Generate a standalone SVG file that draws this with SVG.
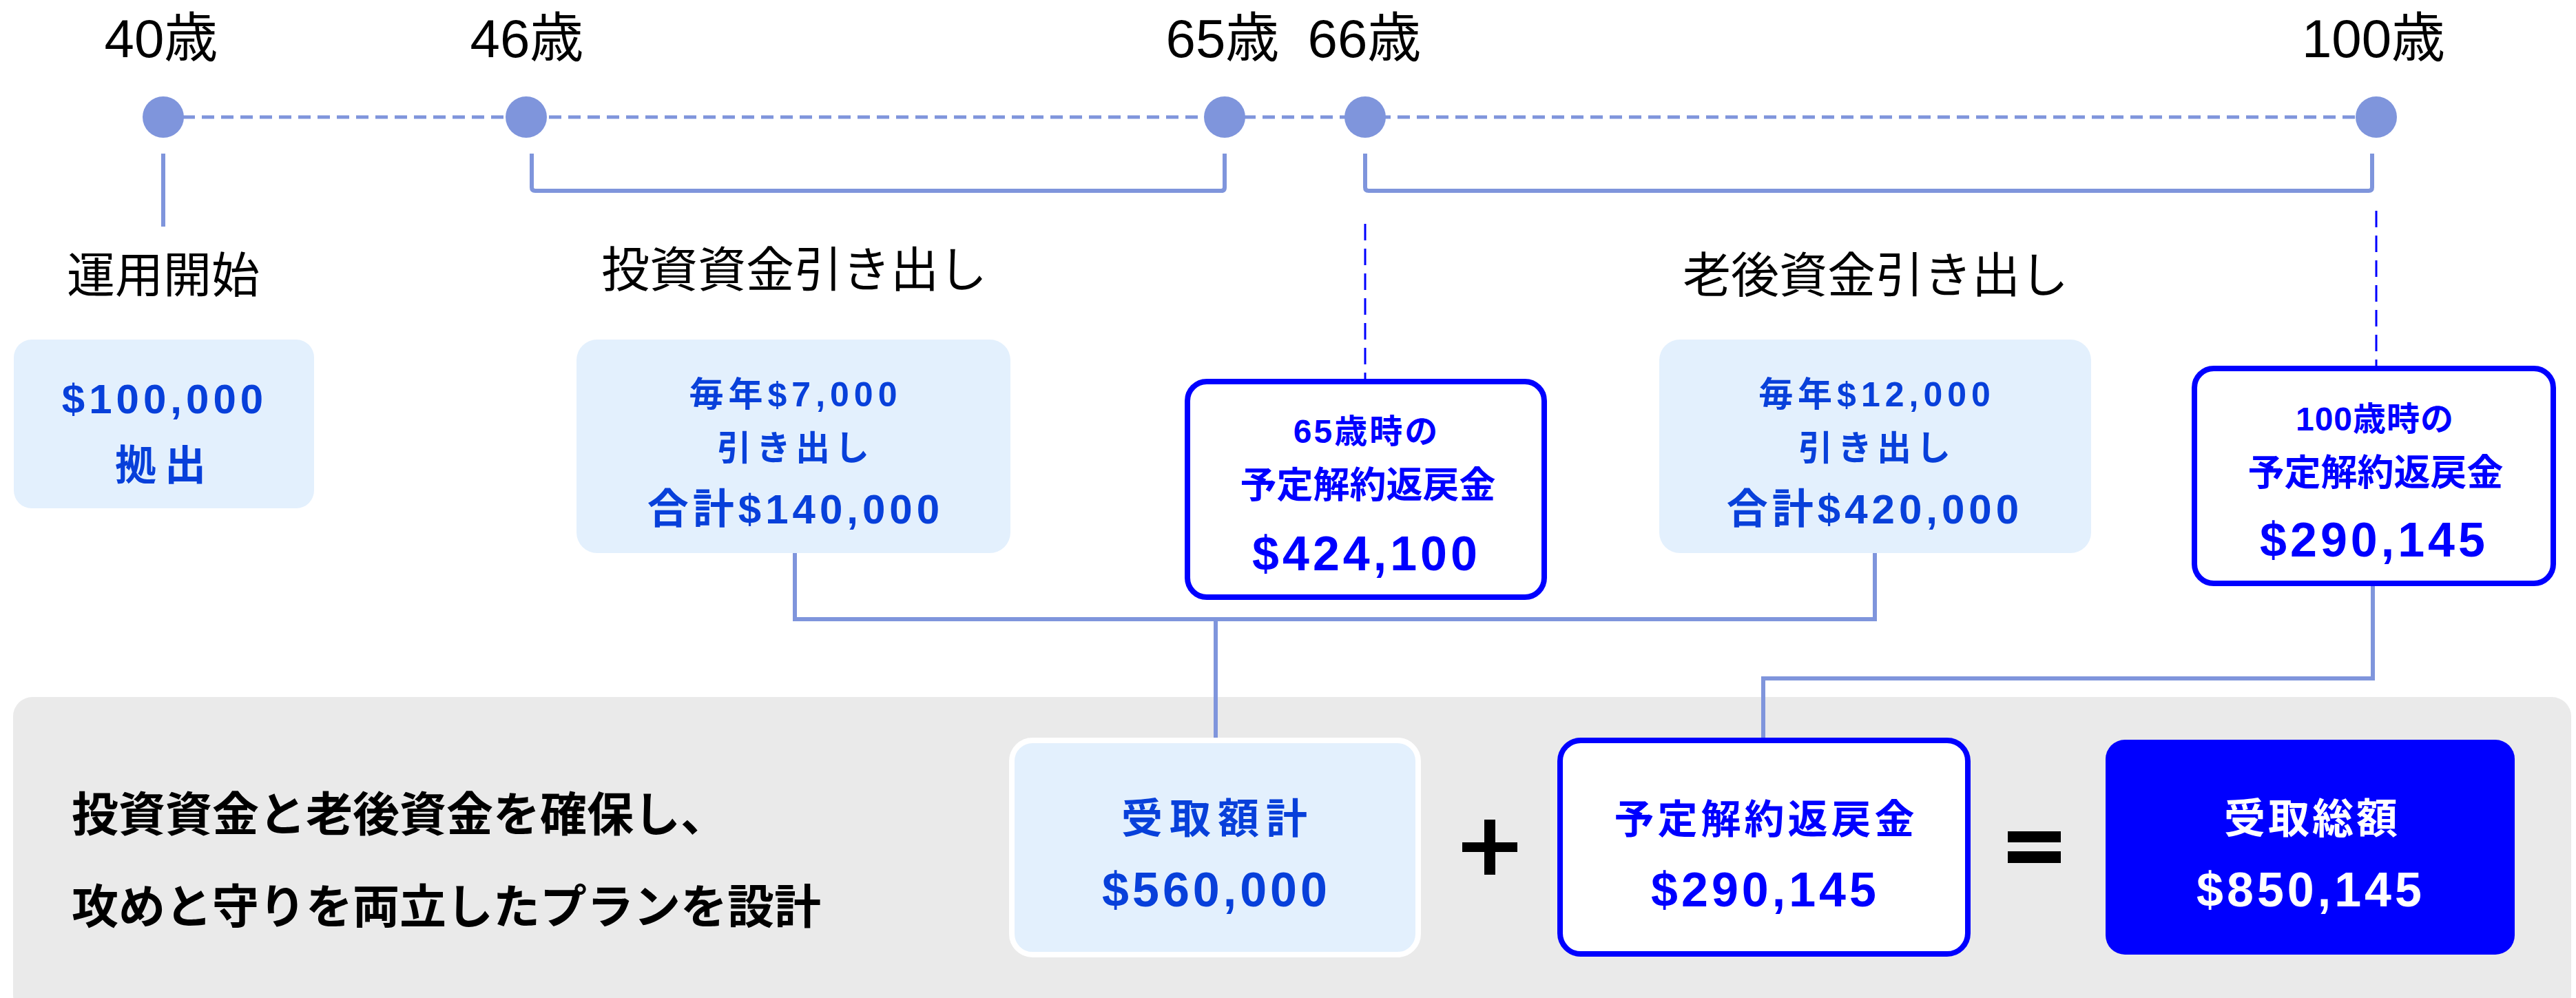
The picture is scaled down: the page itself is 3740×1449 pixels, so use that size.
<svg xmlns="http://www.w3.org/2000/svg" width="3740" height="1449" viewBox="0 0 3740 1449">
<style>
.age{font-family:"Liberation Sans","Noto Sans CJK JP",sans-serif;font-size:78px;fill:#000;text-anchor:middle}
.lab{font-family:"Noto Sans CJK JP","Liberation Sans",sans-serif;font-size:70px;fill:#000;text-anchor:middle}
.t{font-family:"Liberation Sans","Noto Sans CJK JP",sans-serif;font-weight:bold;text-anchor:middle}
.lt{fill:#0840DA}
.bt{fill:#0000FF}
.wt{fill:#FFFFFF}
.lbox{fill:#E3F0FD}
.wbox{fill:#FFFFFF;stroke:#0000FF;stroke-width:8}
.conn{fill:none;stroke:#7F95DC;stroke-width:6}
.dot{fill:#7F95DC}
.blue-dash{fill:none;stroke:#0000FF;stroke-width:3;stroke-dasharray:24 12}
.sum{font-family:"Noto Sans CJK JP","Liberation Sans",sans-serif;font-weight:bold;font-size:68px;fill:#000}
</style>

<g id="panel"><rect x="19" y="1012" width="3714" height="460" rx="28" fill="#EAEAEA"/></g>

<g id="connectors">
<line x1="237" y1="170" x2="3450" y2="170" stroke="#7F95DC" stroke-width="5" stroke-dasharray="18 10"/>
<line class="conn" x1="237" y1="223" x2="237" y2="329"/>
<path class="conn" d="M772 223 V272 Q772 277 777 277 H1773 Q1778 277 1778 272 V223" stroke-width="7"/>
<path class="conn" d="M1982 223 V272 Q1982 277 1987 277 H3439 Q3444 277 3444 272 V223" stroke-width="7"/>
<line class="blue-dash" x1="1982" y1="325" x2="1982" y2="552"/>
<line class="blue-dash" x1="3450" y1="306" x2="3450" y2="533"/>
<path class="conn" d="M1154 803 V899 H2722 V803"/>
<line class="conn" x1="1765" y1="899" x2="1765" y2="1073"/>
<path class="conn" d="M3445 851 V985 H2560 V1073"/>
</g>

<g id="age40"><circle class="dot" cx="237" cy="170" r="30"/><text class="age" x="234" y="83">40歳</text></g>
<g id="age46"><circle class="dot" cx="764" cy="170" r="30"/><text class="age" x="765" y="83">46歳</text></g>
<g id="age65"><circle class="dot" cx="1778" cy="170" r="30"/><text class="age" x="1775" y="83">65歳</text></g>
<g id="age66"><circle class="dot" cx="1982" cy="170" r="30"/><text class="age" x="1981" y="83">66歳</text></g>
<g id="age100"><circle class="dot" cx="3450" cy="170" r="30"/><text class="age" x="3446" y="83">100歳</text></g>

<g id="label-start"><text class="lab" x="237" y="425" font-size="72">運用開始</text></g>
<g id="label-invest"><text class="lab" x="1153" y="417">投資資金引き出し</text></g>
<g id="label-retire"><text class="lab" x="2723" y="425">老後資金引き出し</text></g>

<g id="box-contribution">
<rect class="lbox" x="20" y="493" width="436" height="245" rx="26"/>
<text class="t lt" x="239" y="600" font-size="60" letter-spacing="6">$100,000</text>
<text class="t lt" x="239" y="697" font-size="60" letter-spacing="12">拠出</text>
</g>

<g id="box-invest">
<rect class="lbox" x="837" y="493" width="630" height="310" rx="30"/>
<text class="t lt" x="1155" y="590" font-size="50" letter-spacing="7">毎年$7,000</text>
<text class="t lt" x="1155" y="668" font-size="50" letter-spacing="7">引き出し</text>
<text class="t lt" x="1155" y="760" font-size="60" letter-spacing="6">合計$140,000</text>
</g>

<g id="box-65">
<rect class="wbox" x="1724" y="554" width="518" height="313" rx="28"/>
<text class="t bt" x="1984" y="643" font-size="48" letter-spacing="3">65歳時の</text>
<text class="t bt" x="1986" y="723" font-size="53">予定解約返戻金</text>
<text class="t bt" x="1984" y="828" font-size="70" letter-spacing="5">$424,100</text>
</g>

<g id="box-retire">
<rect class="lbox" x="2409" y="493" width="627" height="310" rx="30"/>
<text class="t lt" x="2725" y="590" font-size="50" letter-spacing="7">毎年$12,000</text>
<text class="t lt" x="2725" y="668" font-size="50" letter-spacing="7">引き出し</text>
<text class="t lt" x="2722" y="760" font-size="60" letter-spacing="6">合計$420,000</text>
</g>

<g id="box-100">
<rect class="wbox" x="3186" y="535" width="521" height="312" rx="28"/>
<text class="t bt" x="3448" y="625" font-size="48" letter-spacing="1">100歳時の</text>
<text class="t bt" x="3449" y="705" font-size="53">予定解約返戻金</text>
<text class="t bt" x="3447" y="808" font-size="70" letter-spacing="5">$290,145</text>
</g>

<g id="summary-text">
<text class="sum" x="104" y="1207">投資資金と老後資金を確保し、</text>
<text class="sum" x="104" y="1341">攻めと守りを両立したプランを設計</text>
</g>

<g id="box-received">
<rect x="1469" y="1075" width="590" height="311" rx="30" fill="#E3F0FD" stroke="#FFFFFF" stroke-width="8"/>
<text class="t lt" x="1768" y="1210" font-size="60" letter-spacing="10">受取額計</text>
<text class="t lt" x="1766" y="1316" font-size="70" letter-spacing="5">$560,000</text>
</g>

<g id="plus"><rect x="2123" y="1223" width="80" height="14" fill="#000"/><rect x="2155" y="1190" width="16" height="80" fill="#000"/></g>

<g id="box-surrender">
<rect class="wbox" x="2265" y="1075" width="592" height="310" rx="30"/>
<text class="t bt" x="2564" y="1210" font-size="58" letter-spacing="5">予定解約返戻金</text>
<text class="t bt" x="2563" y="1316" font-size="70" letter-spacing="5">$290,145</text>
</g>

<g id="equals"><rect x="2915" y="1207" width="77" height="16" fill="#000"/><rect x="2915" y="1236" width="77" height="17" fill="#000"/></g>

<g id="box-total">
<rect x="3057" y="1074" width="594" height="312" rx="28" fill="#0000FF"/>
<text class="t wt" x="3357" y="1210" font-size="60" letter-spacing="4">受取総額</text>
<text class="t wt" x="3355" y="1316" font-size="70" letter-spacing="5">$850,145</text>
</g>
</svg>
